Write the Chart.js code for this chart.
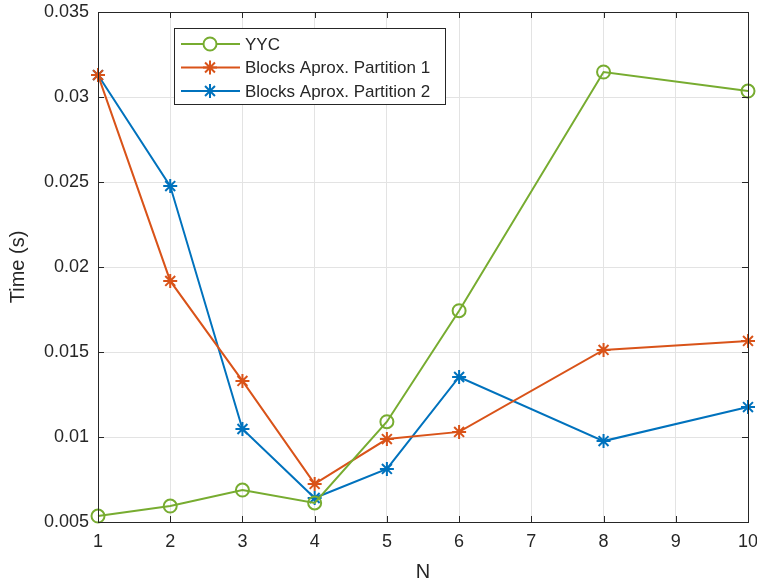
<!DOCTYPE html>
<html>
<head>
<meta charset="utf-8">
<script src="https://cdn.jsdelivr.net/npm/chart.js@4/dist/chart.umd.min.js"></script>
<style>
  html, body { margin: 0; padding: 0; background: #fff; }
  #wrap { width: 757px; height: 584px; }
</style>
</head>
<body>
<div id="wrap"><canvas id="timeChart" width="757" height="584"></canvas></div>
<script>
// values
const nValues = [1, 2, 3, 4, 5, 6, 8, 10];
const yycTimes = [0.00535, 0.00594, 0.00688, 0.00612, 0.01090, 0.01743, 0.03147, 0.03035];
const part1Times = [0.03129, 0.01918, 0.01330, 0.00724, 0.00988, 0.01030, 0.01512, 0.01565];
const part2Times = [0.03129, 0.02476, 0.01047, 0.00641, 0.00812, 0.01353, 0.00976, 0.01176];
const seriesNames = ['YYC', 'Blocks Aprox. Partition 1', 'Blocks Aprox. Partition 2'];
const xTicks = [1, 2, 3, 4, 5, 6, 7, 8, 9, 10];
const yTicks = [0.005, 0.01, 0.015, 0.02, 0.025, 0.03, 0.035];

const FONT = 'Liberation Sans, Arial, Helvetica, sans-serif';
const AXIS = '#262626';
const colors = ['#77AC30', '#D95319', '#0072BD'];

const toPoints = (vals) => vals.map((v, i) => ({ x: nValues[i], y: v }));

// box with inward ticks on all four sides, plus the MATLAB style legend
const matlabFrame = {
  id: 'matlabFrame',
  afterDraw(chart) {
    const ctx = chart.ctx;
    const a = chart.chartArea;
    const xs = chart.scales.x;
    const ys = chart.scales.y;
    ctx.save();
    ctx.strokeStyle = AXIS;
    ctx.lineWidth = 1;
    ctx.strokeRect(Math.round(a.left) + 0.5, Math.round(a.top) + 0.5,
      Math.round(a.right - a.left), Math.round(a.bottom - a.top));
    ctx.beginPath();
    xTicks.forEach((t) => {
      const px = Math.round(xs.getPixelForValue(t)) + 0.5;
      ctx.moveTo(px, a.bottom); ctx.lineTo(px, a.bottom - 6);
      ctx.moveTo(px, a.top); ctx.lineTo(px, a.top + 6);
    });
    yTicks.forEach((t) => {
      const py = Math.round(ys.getPixelForValue(t)) + 0.5;
      ctx.moveTo(a.left, py); ctx.lineTo(a.left + 6, py);
      ctx.moveTo(a.right, py); ctx.lineTo(a.right - 6, py);
    });
    ctx.stroke();

    // legend
    const bx = 174.5, by = 28.5, bw = 271, bh = 76;
    ctx.fillStyle = '#fff';
    ctx.fillRect(bx, by, bw, bh);
    ctx.strokeStyle = AXIS;
    ctx.strokeRect(bx, by, bw, bh);
    ctx.font = '17px ' + FONT;
    ctx.textBaseline = 'middle';
    chart.data.datasets.forEach((ds, i) => {
      const yy = 44 + i * 23.5;
      ctx.strokeStyle = ds.borderColor;
      ctx.lineWidth = 2;
      ctx.beginPath();
      ctx.moveTo(181, yy); ctx.lineTo(240, yy);
      ctx.stroke();
      Chart.helpers.drawPoint(ctx, {
        pointStyle: ds.pointStyle, radius: ds.pointRadius, borderWidth: 2, rotation: 0
      }, 210, yy);
      ctx.fillStyle = AXIS;
      ctx.fillText(ds.label, 245, yy + 1);
    });
    ctx.restore();
  }
};

const ctx = document.getElementById('timeChart').getContext('2d');
new Chart(ctx, {
  type: 'line',
  data: {
    datasets: [
      { label: seriesNames[0], data: toPoints(yycTimes), borderColor: colors[0], backgroundColor: 'rgba(0,0,0,0)',
        pointStyle: 'circle', pointRadius: 6.5 },
      { label: seriesNames[1], data: toPoints(part1Times), borderColor: colors[1], backgroundColor: 'rgba(0,0,0,0)',
        pointStyle: 'star', pointRadius: 7 },
      { label: seriesNames[2], data: toPoints(part2Times), borderColor: colors[2], backgroundColor: 'rgba(0,0,0,0)',
        pointStyle: 'star', pointRadius: 7 },
    ].map((d) => Object.assign(d, {
      borderWidth: 2, pointBorderColor: d.borderColor, pointBackgroundColor: 'rgba(0,0,0,0)',
      pointBorderWidth: 2, tension: 0, fill: false, clip: false
    })),
  },
  options: {
    responsive: false,
    animation: false,
    events: [],
    layout: { padding: { top: 12, right: 9, left: 0, bottom: 0 } },
    plugins: { legend: { display: false }, tooltip: { enabled: false } },
    scales: {
      x: {
        type: 'linear', min: 1, max: 10,
        afterBuildTicks: (s) => { s.ticks = xTicks.map((v) => ({ value: v })); },
        afterFit: (s) => { s.height = 62; s.paddingLeft = 0; s.paddingRight = 0; },
        grid: { color: '#e3e3e3', drawTicks: false },
        border: { display: false },
        ticks: { color: AXIS, font: { family: FONT, size: 18 }, padding: 9, maxRotation: 0 },
        title: { display: true, text: 'N', color: AXIS, font: { family: FONT, size: 20 }, padding: { top: 3, bottom: 0 } },
      },
      y: {
        type: 'linear', min: 0.005, max: 0.035,
        afterBuildTicks: (s) => { s.ticks = yTicks.map((v) => ({ value: v })); },
        afterFit: (s) => { s.width = 98; s.paddingTop = 0; s.paddingBottom = 0; },
        grid: { color: '#e3e3e3', drawTicks: false },
        border: { display: false },
        ticks: { color: AXIS, font: { family: FONT, size: 18 }, padding: 9,
          callback: (v) => String(Number(v.toFixed(3))) },
        title: { display: true, text: 'Time (s)', color: AXIS, font: { family: FONT, size: 20 }, padding: { top: 6, bottom: 4 } },
      },
    },
  },
  plugins: [matlabFrame],
});
</script>
</body>
</html>
